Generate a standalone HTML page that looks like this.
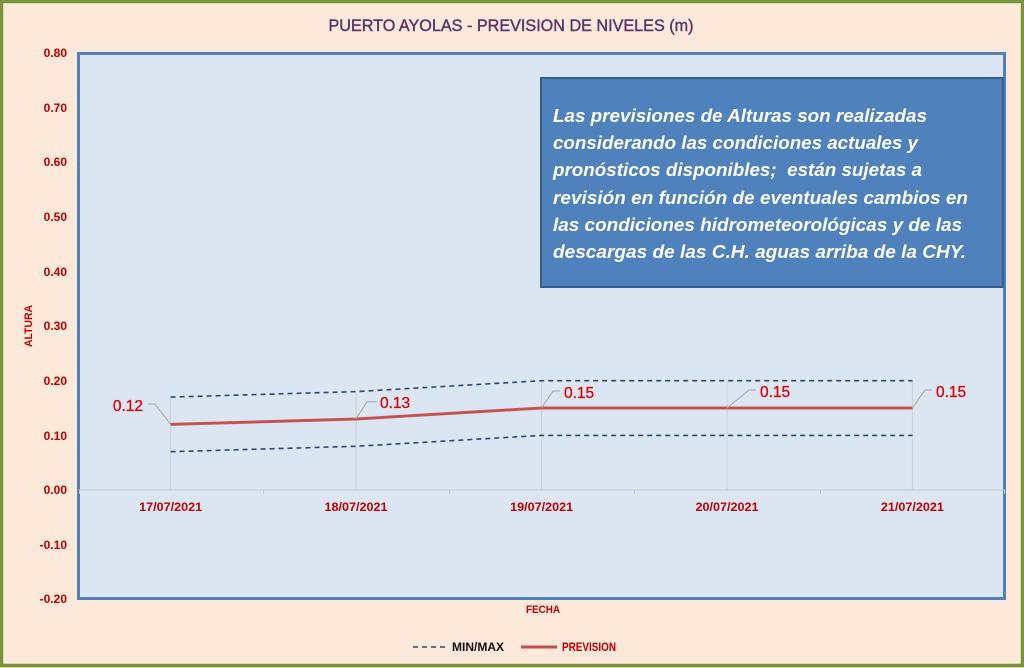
<!DOCTYPE html>
<html><head><meta charset="utf-8"><style>
html,body{margin:0;padding:0;background:#fde9d9;}
svg{display:block;}
text{font-family:"Liberation Sans",sans-serif;}
</style></head><body>
<svg width="1024" height="668" viewBox="0 0 1024 668" xmlns="http://www.w3.org/2000/svg">
<rect x="0" y="0" width="1024" height="668" fill="#fde9d9"/>
<rect x="1.5" y="1.5" width="1021" height="664" fill="none" stroke="#77933c" stroke-width="3.5"/>
<text x="511" y="31" text-anchor="middle" font-size="17" fill="#62325f" stroke="#5a3a78" stroke-width="0.45" textLength="365" lengthAdjust="spacingAndGlyphs">PUERTO AYOLAS - PREVISION DE NIVELES (m)</text>
<rect x="78.5" y="53.5" width="926" height="545" fill="#dce6f2" stroke="#4f81bd" stroke-width="3"/>
<g font-size="12" font-weight="bold" fill="#c00000" text-anchor="end">
<text x="67" y="57">0.80</text>
<text x="67" y="112">0.70</text>
<text x="67" y="166">0.60</text>
<text x="67" y="221">0.50</text>
<text x="67" y="276">0.40</text>
<text x="67" y="330">0.30</text>
<text x="67" y="385">0.20</text>
<text x="67" y="440">0.10</text>
<text x="67" y="494">0.00</text>
<text x="67" y="549">-0.10</text>
<text x="67" y="603">-0.20</text>
</g>
<text transform="translate(32,326) rotate(-90)" text-anchor="middle" font-size="11" font-weight="bold" fill="#c00000" textLength="42" lengthAdjust="spacingAndGlyphs">ALTURA</text>
<line x1="79" y1="490" x2="1005" y2="490" stroke="#c4c8cc" stroke-width="1"/>
<g stroke="#c4c8cc" stroke-width="1">
<line x1="79.5" y1="490" x2="79.5" y2="494"/>
<line x1="263.5" y1="490" x2="263.5" y2="494"/>
<line x1="449.5" y1="490" x2="449.5" y2="494"/>
<line x1="634.5" y1="490" x2="634.5" y2="494"/>
<line x1="820.5" y1="490" x2="820.5" y2="494"/>
<line x1="1004.5" y1="490" x2="1004.5" y2="494"/>
</g>
<g stroke="#cdd1d6" stroke-width="1">
<line x1="170.6" y1="397" x2="170.6" y2="490"/>
<line x1="356" y1="391.6" x2="356" y2="490"/>
<line x1="541.6" y1="380.7" x2="541.6" y2="490"/>
<line x1="727" y1="380.7" x2="727" y2="490"/>
<line x1="912.4" y1="380.7" x2="912.4" y2="490"/>
</g>
<g font-size="12" font-weight="bold" fill="#c00000" text-anchor="middle">
<text x="170.6" y="511" textLength="63" lengthAdjust="spacingAndGlyphs">17/07/2021</text>
<text x="356" y="511" textLength="63" lengthAdjust="spacingAndGlyphs">18/07/2021</text>
<text x="541.6" y="511" textLength="63" lengthAdjust="spacingAndGlyphs">19/07/2021</text>
<text x="727" y="511" textLength="63" lengthAdjust="spacingAndGlyphs">20/07/2021</text>
<text x="912.4" y="511" textLength="63" lengthAdjust="spacingAndGlyphs">21/07/2021</text>
</g>
<g fill="none" stroke="#2c4770" stroke-width="1.6" stroke-dasharray="5,4">
<polyline points="170.6,397.1 356,391.6 541.6,380.7 727,380.7 912.4,380.7"/>
<polyline points="170.6,451.7 356,446.3 541.6,435.4 727,435.4 912.4,435.4"/>
</g>
<polyline points="170.6,424.4 356,419 541.6,408 727,408 912.4,408" fill="none" stroke="#d05a58" stroke-width="3"/>
<polyline points="170.6,424.4 356,419 541.6,408 727,408 912.4,408" fill="none" stroke="#c0504d" stroke-width="1.5"/>
<g fill="none" stroke="#a6a6a6" stroke-width="1">
<polyline points="148,404 155,404 170.6,424.4"/>
<polyline points="356,419 367,401.7 377,401.7"/>
<polyline points="541.6,408 553,391 560,391"/>
<polyline points="727,408 749,390 756,390"/>
<polyline points="912.4,408 925,390 932,390"/>
</g>
<g font-size="15.5" fill="#e00000" stroke="#e00000" stroke-width="0.3">
<text x="143" y="411" text-anchor="end">0.12</text>
<text x="380" y="408">0.13</text>
<text x="564" y="398">0.15</text>
<text x="760" y="397">0.15</text>
<text x="936" y="397">0.15</text>
</g>
<rect x="541" y="78" width="462" height="209" fill="#4f81bd" stroke="#385d8a" stroke-width="2"/>
<g font-size="18" font-weight="bold" font-style="italic" fill="#ffffff">
<text x="553" y="122" textLength="374" lengthAdjust="spacingAndGlyphs">Las previsiones de Alturas son realizadas</text>
<text x="553" y="149" textLength="365" lengthAdjust="spacingAndGlyphs">considerando las condiciones actuales y</text>
<text x="553" y="176" textLength="369" lengthAdjust="spacingAndGlyphs" xml:space="preserve">pronósticos disponibles;  están sujetas a</text>
<text x="553" y="204" textLength="415" lengthAdjust="spacingAndGlyphs">revisión en función de eventuales cambios en</text>
<text x="553" y="231" textLength="409" lengthAdjust="spacingAndGlyphs">las condiciones hidrometeorológicas y de las</text>
<text x="553" y="258" textLength="413" lengthAdjust="spacingAndGlyphs">descargas de las C.H. aguas arriba de la CHY.</text>
</g>
<text x="543" y="613" text-anchor="middle" font-size="11" font-weight="bold" fill="#c00000" textLength="34" lengthAdjust="spacingAndGlyphs">FECHA</text>
<line x1="413" y1="647" x2="448" y2="647" stroke="#2c4770" stroke-width="1.6" stroke-dasharray="5,4"/>
<text x="452" y="651" font-size="11.5" font-weight="bold" fill="#111" textLength="52" lengthAdjust="spacingAndGlyphs">MIN/MAX</text>
<line x1="521" y1="647" x2="557" y2="647" stroke="#c0504d" stroke-width="3"/>
<text x="562" y="651" font-size="11.5" font-weight="bold" fill="#c00000" textLength="54" lengthAdjust="spacingAndGlyphs">PREVISION</text>
</svg>
</body></html>
